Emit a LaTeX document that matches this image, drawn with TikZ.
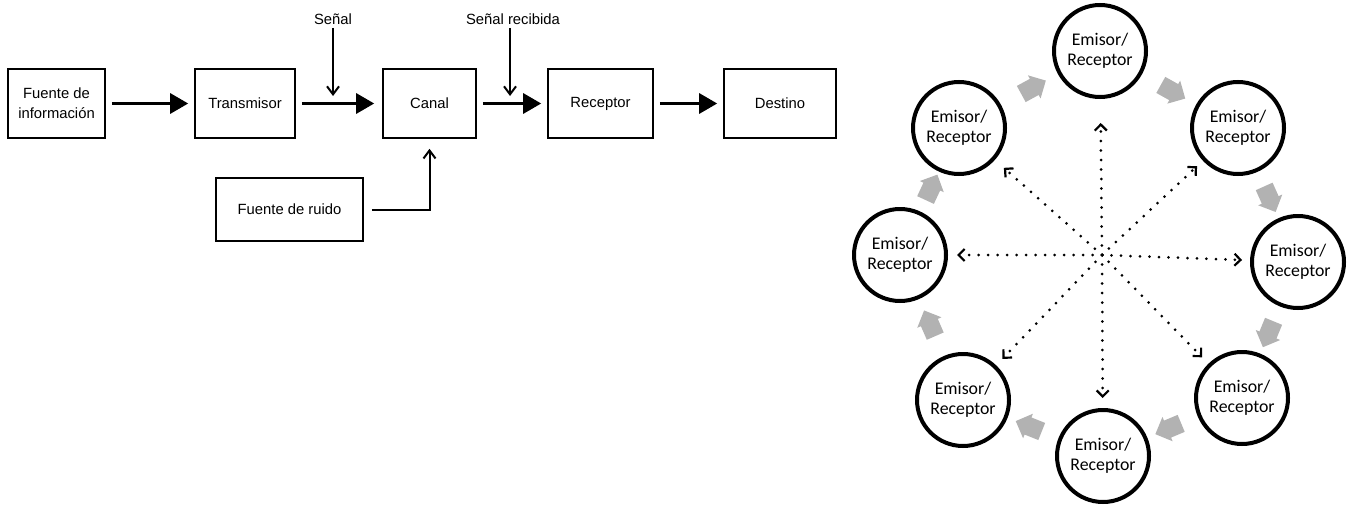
\documentclass[tikz,border=0pt]{standalone}
\usepackage{fontspec}
\setmainfont{Liberation Sans}
\newfontfamily\carlito{Carlito}
\usetikzlibrary{arrows.meta,shapes.arrows}

\begin{document}
\begin{tikzpicture}[x=1pt,y=-1pt,
  box/.style={draw,line width=1.6pt,inner sep=0pt,align=center,font=\fontsize{14.8}{20}\selectfont},
  label/.style={font=\fontsize{14.8}{20}\selectfont},
  bigflow/.style={line width=3pt,-{Triangle[length=18pt,width=20pt]},shorten <=6pt,shorten >=6pt},
  feed/.style={line width=2pt,-{Straight Barb[length=8pt,width=12pt]}},
  station/.style={circle,draw,fill=white,line width=4pt,minimum size=92pt,inner sep=0pt,align=center,font=\carlito\fontsize{17.8}{20}\selectfont},
  passarrow/.style={single arrow,fill=black!30,draw=none,minimum height=28pt,inner xsep=0pt,inner ysep=9pt,single arrow head extend=4pt,sloped,allow upside down},
  beam/.style={line width=3pt,line cap=round,dash pattern=on 0pt off 9.5pt,-{Straight Barb[length=6pt,width=12pt,line width=2.2pt]}}]
  \useasboundingbox (0,0) rectangle (1356,506);

  \node[box,minimum width=97pt,minimum height=69pt] (info) at (56.5,103.5) {Fuente de\\información};
  \node[box,minimum width=100pt,minimum height=69pt] (trans) at (245,103.5) {Transmisor};
  \node[box,minimum width=93pt,minimum height=69pt] (canal) at (429.5,103.5) {Canal};
  \node[box,minimum width=105pt,minimum height=69pt] (recep) at (600.5,103.5) {Receptor};
  \node[box,minimum width=112pt,minimum height=69pt] (dest) at (780,103.5) {Destino};
  \node[box,minimum width=147pt,minimum height=63pt] (ruido) at (289.5,209.5) {Fuente de ruido};
  \node[label] (senal) at (333,19) {Señal};
  \node[label] (recibida) at (513,19) {Señal recibida};
  \coordinate (senalend) at (333,96);
  \coordinate (recibidaend) at (510,96);

  \draw[bigflow] (info) -- (trans);
  \draw[bigflow,shorten >=8pt] (trans) -- (canal);
  \draw[bigflow] (canal) -- (recep);
  \draw[bigflow] (recep) -- (dest);
  \draw[feed] (senal) -- (senalend);
  \draw[feed] (recibidaend |- recibida.south) -- (recibidaend);
  \draw[feed,shorten <=8pt,shorten >=10pt] (ruido.east) -| (canal.south);

  \coordinate (hub) at (1102,255);
  \foreach \n/\x/\y in {1/900/255,2/959/128,3/1100/51,4/1238/128,5/1298/262,6/1242/398,7/1103/456,8/963/400}{
  \node[station] (c\n) at (\x,\y) {Emisor/\\Receptor};
  }
  \foreach \a/\b in {1/2,2/3,3/4,4/5,5/6,6/7,7/8,8/1}{
  \path (c\a) -- node[passarrow] {} (c\b);
  }
  \foreach \n/\s in {1/9pt,2/12pt,3/24pt,4/8pt,5/8pt,6/9pt,7/10pt,8/9pt}{
  \draw[beam,shorten >=\s] (hub) -- (c\n);
  }
\end{tikzpicture}
\end{document}
